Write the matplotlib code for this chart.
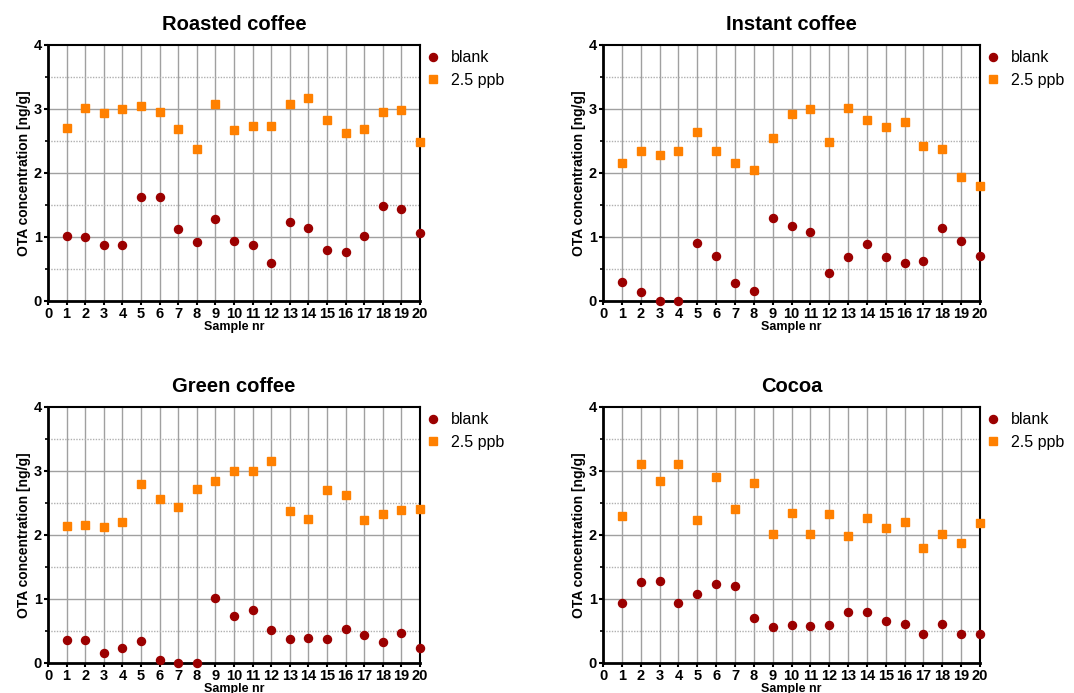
import matplotlib
matplotlib.use('Agg')
import matplotlib.pyplot as plt
import numpy as np

samples = np.arange(1, 21)

titles = ['Roasted coffee', 'Instant coffee', 'Green coffee', 'Cocoa']

roasted_blank = [1.02, 1.00, 0.87, 0.87, 1.62, 1.62, 1.12, 0.92, 1.28, 0.93,
                 0.87, 0.60, 1.23, 1.14, 0.80, 0.76, 1.01, 1.49, 1.44, 1.06]
roasted_spiked = [2.70, 3.01, 2.94, 3.00, 3.05, 2.95, 2.68, 2.37, 3.07, 2.67,
                  2.74, 2.74, 3.07, 3.17, 2.82, 2.63, 2.68, 2.95, 2.98, 2.48]

instant_blank = [0.29, 0.14, 0.00, 0.00, 0.91, 0.70, 0.28, 0.15, 1.29, 1.17,
                 1.07, 0.44, 0.69, 0.89, 0.69, 0.60, 0.63, 1.14, 0.94, 0.70]
instant_spiked = [2.16, 2.34, 2.28, 2.34, 2.64, 2.35, 2.16, 2.04, 2.54, 2.92,
                  3.00, 2.49, 3.02, 2.83, 2.72, 2.79, 2.42, 2.37, 1.94, 1.79]

green_blank = [0.36, 0.36, 0.16, 0.24, 0.35, 0.05, 0.00, 0.00, 1.01, 0.74,
               0.83, 0.51, 0.38, 0.39, 0.38, 0.53, 0.43, 0.33, 0.47, 0.23]
green_spiked = [2.14, 2.15, 2.12, 2.20, 2.80, 2.56, 2.43, 2.72, 2.85, 3.00,
                3.00, 3.16, 2.37, 2.25, 2.70, 2.63, 2.24, 2.33, 2.39, 2.40]

cocoa_blank = [0.94, 1.26, 1.28, 0.94, 1.08, 1.24, 1.21, 0.70, 0.56, 0.60,
               0.58, 0.59, 0.79, 0.79, 0.65, 0.61, 0.46, 0.61, 0.45, 0.45]
cocoa_spiked = [2.30, 3.11, 2.84, 3.11, 2.24, 2.90, 2.41, 2.81, 2.01, 2.34,
                2.02, 2.33, 1.98, 2.26, 2.11, 2.21, 1.79, 2.02, 1.87, 2.19]

blank_sets = [roasted_blank, instant_blank, green_blank, cocoa_blank]
spiked_sets = [roasted_spiked, instant_spiked, green_spiked, cocoa_spiked]

plt.rcParams['font.family'] = ['Liberation Sans', 'DejaVu Sans']

fig = plt.figure(figsize=(10.74, 6.93), dpi=100)

# axes boxes in figure fractions
boxes = [
    [0.0447, 0.5657, 0.3464, 0.3694],
    [0.5615, 0.5657, 0.3510, 0.3694],
    [0.0447, 0.0433, 0.3464, 0.3694],
    [0.5615, 0.0433, 0.3510, 0.3694],
]

for box, title, blank, spiked in zip(boxes, titles, blank_sets, spiked_sets):
    ax = fig.add_axes(box)
    ax.set_xlim(0, 20)
    ax.set_ylim(0, 4)

    # grid
    for x in range(1, 20):
        ax.axvline(x, color='#a0a0a0', lw=1.0, zorder=0)
    for y in [1, 2, 3]:
        ax.axhline(y, color='#a0a0a0', lw=1.0, zorder=0)
    for y in [0.5, 1.5, 2.5, 3.5]:
        ax.axhline(y, color='#b0b0b0', lw=1.0, ls=(0, (1, 1)), zorder=0)

    ax.plot(samples, blank, 'o', color='#9b0000', ms=5.8, label='blank',
            clip_on=False, zorder=3)
    ax.plot(samples, spiked, 's', color='#ff8000', ms=5.8, label='2.5 ppb',
            clip_on=False, zorder=3)

    ax.set_xticks(range(0, 21))
    ax.set_yticks(range(0, 5))
    ax.set_yticks([0.5, 1.5, 2.5, 3.5], minor=True)
    ax.tick_params(axis='both', which='major', labelsize=10.5, width=1.5,
                   length=3, pad=1.5)
    ax.tick_params(axis='y', which='minor', width=1.2, length=2)
    for lab in ax.get_xticklabels() + ax.get_yticklabels():
        lab.set_fontweight('bold')

    for side in ['left', 'bottom']:
        ax.spines[side].set_linewidth(2.0)
    for side in ['top', 'right']:
        ax.spines[side].set_linewidth(1.5)

    ax.set_title(title, fontsize=14.5, fontweight='bold', pad=11)
    ax.set_ylabel('OTA concentration [ng/g]', fontsize=10, fontweight='bold',
                  labelpad=2)
    ax.set_xlabel('Sample nr', fontsize=9, fontweight='bold', labelpad=-0.5)

    ax.legend(loc='upper left', bbox_to_anchor=(0.975, 1.035), frameon=False,
              fontsize=11.5, markerscale=1.0, handlelength=1.0,
              handletextpad=0.6, labelspacing=0.45)

fig.savefig('out.png', dpi=100)
